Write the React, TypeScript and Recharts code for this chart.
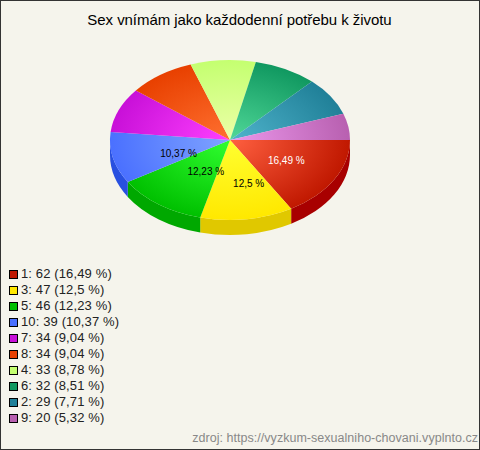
import React from "react";
import { PieChart, Pie, Legend } from "recharts";

const categories = ["1", "3", "5", "10", "7", "8", "4", "6", "2", "9"];
const counts = [62, 47, 46, 39, 34, 34, 33, 32, 29, 20];
const percents = ["16,49", "12,5", "12,23", "10,37", "9,04", "9,04", "8,78", "8,51", "7,71", "5,32"];
const baseColors = ["#c01800", "#ffe800", "#00c000", "#4a70ff", "#c810d8", "#e84000", "#c4ff70", "#109860", "#208098", "#b860b0"];
const lightColors = ["#ff6040", "#ffff30", "#30ff30", "#80a4ff", "#ff40ff", "#ff7030", "#ecffa8", "#50d898", "#50b4cc", "#ec98ec"];
const sideColors = ["#a80000", "#e0c800", "#00a800", "#2850e0", "#9000a0", "#b03000", "#90c050", "#007040", "#106070", "#904090"];
const labelFractions = [[0.54, 0.52], [1.1, 0.55], [0.34, 0.49], [0.44, 0.76]];
const labelColors = ["#ffffff", "#000000", "#000000", "#000000"];

const sliceData = categories.map((name, i) => ({
  name,
  value: counts[i],
  pct: percents[i],
  fill: `url(#slice${i})`,
  legendColor: baseColors[i],
  side: sideColors[i],
}));

const FONT = '"Liberation Sans", Arial, sans-serif';
const TILT = 80 / 120;
const DEPTH = 15;
const BG = "#f5f4ec";
const RAD = Math.PI / 180;

const pointAt = (cx: number, cy: number, r: number, a: number) => [
  cx + r * Math.cos(-a * RAD),
  cy + r * TILT * Math.sin(-a * RAD),
];

function TopSlice(props: any) {
  const { cx, cy, outerRadius: r, startAngle, endAngle, fill } = props;
  const [x1, y1] = pointAt(cx, cy, r, startAngle);
  const [x2, y2] = pointAt(cx, cy, r, endAngle);
  const large = Math.abs(endAngle - startAngle) > 180 ? 1 : 0;
  return (
    <path
      d={`M${cx},${cy}L${x1},${y1}A${r},${r * TILT} 0 ${large} 1 ${x2},${y2}Z`}
      fill={fill}
      stroke="none"
    />
  );
}

function SideSlice(props: any) {
  const { cx, cy, outerRadius: r, startAngle, endAngle, payload } = props;
  const from = Math.max(startAngle, -180);
  const to = Math.max(endAngle, -180);
  if (from <= to || from > 0) return null;
  const [x1, y1] = pointAt(cx, cy, r, from);
  const [x2, y2] = pointAt(cx, cy, r, to);
  const ry = r * TILT;
  return (
    <path
      d={`M${x1},${y1}A${r},${ry} 0 0 1 ${x2},${y2}L${x2},${y2 + DEPTH}A${r},${ry} 0 0 0 ${x1},${y1 + DEPTH}Z`}
      fill={payload?.side ?? props.side}
      stroke="none"
    />
  );
}

function sliceLabel(props: any) {
  const { cx, cy, outerRadius: r, midAngle, index } = props;
  const f = labelFractions[index];
  if (!f) return null;
  const x = cx + r * f[0] * Math.cos(-midAngle * RAD);
  const y = cy + r * TILT * f[1] * Math.sin(-midAngle * RAD);
  return (
    <text x={x} y={y} textAnchor="middle" dominantBaseline="central" fontFamily={FONT} fontSize={10} fill={labelColors[index]}>
      {percents[index]} %
    </text>
  );
}

function LegendList({ payload }: any) {
  const rows = (payload ?? []).filter((e: any) => e.type !== "none");
  const seen = new Set<string>();
  const unique = rows.filter((e: any) => {
    if (seen.has(e.payload.name)) return false;
    seen.add(e.payload.name);
    return true;
  });
  return (
    <div style={{ fontFamily: FONT, fontSize: 13, letterSpacing: 0.13, lineHeight: "16px", color: "#222" }}>
      {unique.map((e: any, i: number) => (
        <div key={i} style={{ display: "flex", alignItems: "center", height: 16, whiteSpace: "nowrap" }}>
          <span style={{ width: 7, height: 7, border: "1px solid #000", background: e.payload.legendColor, marginRight: 3, flex: "none" }} />
          <span>{`${e.payload.name}: ${e.payload.value} (${e.payload.pct} %)`}</span>
        </div>
      ))}
    </div>
  );
}

export default function App() {
  return (
    <div style={{ position: "fixed", left: 0, top: 0, width: 478, height: 448, border: "1px solid #333", background: BG, overflow: "hidden" }}>
      <div style={{ position: "absolute", left: 0, top: 10, width: 477, textAlign: "center", fontFamily: FONT, fontSize: 15, letterSpacing: -0.06, color: "#000", lineHeight: "18px" }}>
        Sex vnímám jako každodenní potřebu k životu
      </div>
      <PieChart width={478} height={448} margin={{ top: 0, right: 0, bottom: 0, left: 0 }} style={{ position: "absolute", left: 0, top: 0 }}>
        <defs>
          {categories.map((_, i) => (
            <radialGradient key={i} id={`slice${i}`} gradientUnits="userSpaceOnUse" cx={229} cy={139} r={120} gradientTransform={`translate(229 139) scale(1 ${TILT}) translate(-229 -139)`}>
              <stop offset="0%" stopColor={lightColors[i]} />
              <stop offset="100%" stopColor={baseColors[i]} />
            </radialGradient>
          ))}
        </defs>
        <Pie
          data={sliceData}
          dataKey="value"
          nameKey="name"
          cx={229}
          cy={139}
          outerRadius={120}
          startAngle={0}
          endAngle={-360}
          stroke="none"
          legendType="none"
          isAnimationActive={false}
          shape={SideSlice}
          inactiveShape={SideSlice}
          activeShape={SideSlice}
        />
        <Pie
          data={sliceData}
          dataKey="value"
          nameKey="name"
          cx={229}
          cy={139}
          outerRadius={120}
          startAngle={0}
          endAngle={-360}
          stroke="none"
          legendType="square"
          label={sliceLabel}
          labelLine={false}
          isAnimationActive={false}
          shape={TopSlice}
          inactiveShape={TopSlice}
          activeShape={TopSlice}
        />
        <Legend content={LegendList} itemSorter={null} layout="vertical" wrapperStyle={{ position: "absolute", left: 8, top: 265, width: 200, height: 164 }} />
      </PieChart>
      <div style={{ position: "absolute", right: 1, top: 429, fontFamily: FONT, fontSize: 12.5, letterSpacing: 0.03, color: "#888", lineHeight: "16px", whiteSpace: "nowrap" }}>
        zdroj: https://vyzkum-sexualniho-chovani.vyplnto.cz
      </div>
    </div>
  );
}
